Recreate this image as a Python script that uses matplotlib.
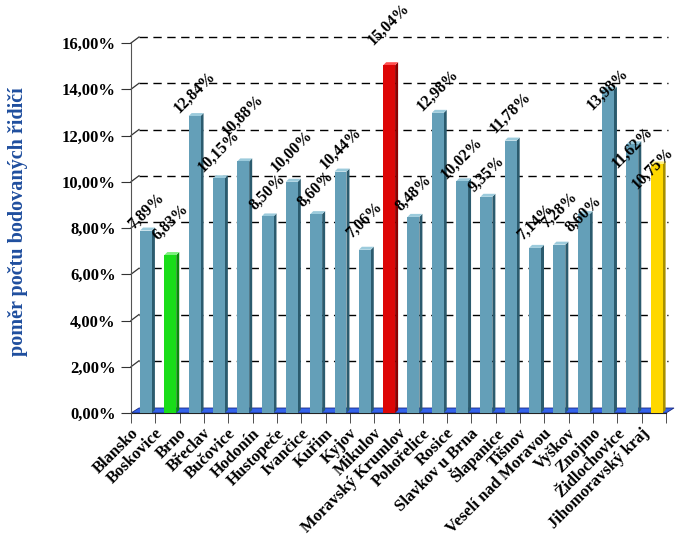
import numpy as np
import matplotlib
matplotlib.use("Agg")
import matplotlib.pyplot as plt
from matplotlib.patches import Polygon

okresy = ["Blansko", "Boskovice", "Brno", "Břeclav", "Bučovice", "Hodonín",
          "Hustopeče", "Ivančice", "Kuřim", "Kyjov", "Mikulov",
          "Moravský Krumlov", "Pohořelice", "Rosice", "Slavkov u Brna",
          "Šlapanice", "Tišnov", "Veselí nad Moravou", "Vyškov", "Znojmo",
          "Židlochovice", "Jihomoravský kraj"]
pomer = [7.89, 6.83, 12.84, 10.15, 10.88, 8.50, 10.00, 8.60, 10.44, 7.06, 15.04,
         8.48, 12.98, 10.02, 9.35, 11.78, 7.14, 7.28, 8.60, 13.98, 11.62, 10.75]
zvyraznit = {"Boskovice": "green", "Mikulov": "red", "Jihomoravský kraj": "yellow"}
y_ticks = [0, 2, 4, 6, 8, 10, 12, 14, 16]

# how far above bar top each value label sits (px), as placed in the original
label_lift = [19, 33, 24, 27, 46, 24, 31, 25, 23, 30, 41,
              24, 23, 23, 23, 28, 26, 35, 0, 0, -3, -4]

barvy = {
    "blue": ("#649fb8", "#2b5b6e", "#9ccbdc"),
    "green": ("#19dd19", "#0a8a0a", "#7cf07c"),
    "red": ("#dd0606", "#8a0000", "#ff5050"),
    "yellow": ("#ffd800", "#a89000", "#fff080"),
}

plt.rcParams['font.family'] = ['Liberation Serif', 'DejaVu Serif']
plt.rcParams['font.weight'] = 'bold'

W, H = 679, 540
fig = plt.figure(figsize=(W / 100, H / 100), dpi=100)
x0, x1, y0, y1 = 131, 666, 413, 43
ax = fig.add_axes([x0 / W, 1 - y0 / H, (x1 - x0) / W, (y0 - y1) / H])
ax.set_xlim(-0.5, 21.5)
ax.set_ylim(0, 16)

pxx = (x1 - x0) / 22.0
pxy = (y0 - y1) / 16.0
wall_dx, wall_dy = 8 / pxx, 6 / pxy
floor_dx, floor_dy = 8 / pxx, 5 / pxy
bar_dx, bar_dy = 3 / pxx, 3 / pxy

# back wall grid
for yv in y_ticks[1:]:
    ax.plot([-0.5 + wall_dx, 21.5 + 0.1], [yv + wall_dy] * 2, color="black",
            lw=1, ls=(0, (6, 4)), zorder=1, clip_on=False)
    ax.plot([-0.5, -0.5 + wall_dx], [yv, yv + wall_dy], color="#333333",
            lw=0.9, zorder=1, clip_on=False)

# floor
ax.add_patch(Polygon([(-0.5, 0), (21.5, 0), (21.5 + floor_dx, floor_dy),
                      (-0.5 + floor_dx, floor_dy)], closed=True,
                     facecolor="#3362ea", edgecolor="#1a2a80", lw=0.6,
                     zorder=2, clip_on=False))

pos = np.arange(len(okresy))
bw = 0.49
for i, (name, v) in enumerate(zip(okresy, pomer)):
    front, side, top = barvy[zvyraznit.get(name, "blue")]
    left = pos[i] - 0.13
    right = left + bw
    ax.add_patch(Polygon([(right, 0), (right + bar_dx, bar_dy),
                          (right + bar_dx, v + bar_dy), (right, v)],
                         closed=True, facecolor=side, edgecolor="none",
                         zorder=3, clip_on=False))
    ax.add_patch(Polygon([(left, v), (right, v), (right + bar_dx, v + bar_dy),
                          (left + bar_dx, v + bar_dy)], closed=True,
                         facecolor=top, edgecolor="none", zorder=3,
                         clip_on=False))
    ax.bar(left + bw / 2, v, width=bw, color=front, edgecolor="none", zorder=4)
    txt = f"{v:.2f}%".replace(".", ",")
    # keep the last label inside the figure edge
    dx = -3 if i == len(okresy) - 1 else 0
    ax.annotate(txt, xy=(left + bw / 2, v), xytext=(dx, label_lift[i] * 0.72),
                textcoords="offset points", rotation=45, ha="center",
                va="center", fontsize=11.5, fontweight="bold", zorder=6,
                annotation_clip=False)

# axes styling
for s in ["top", "right"]:
    ax.spines[s].set_visible(False)
ax.spines["left"].set_color("#555555")
ax.spines["bottom"].set_color("#222222")
ax.spines["left"].set_zorder(5)

ax.set_yticks(y_ticks, [f"{t:.2f}%".replace(".", ",") for t in y_ticks],
              fontsize=12, fontweight="bold")
ax.tick_params(axis="y", length=7, color="#333333", pad=4)

ax.set_xticks(pos - 0.3, okresy, rotation=45, ha="right", va="center",
              rotation_mode="anchor", fontsize=12, fontweight="bold")
ax.set_xticks(np.arange(-0.5, 22, 1), minor=True)
ax.tick_params(axis="x", which="major", length=0, pad=13)
ax.tick_params(axis="x", which="minor", length=7, color="#333333")

fig.text(18 / W, 1 - 222 / H, "poměr počtu bodovaných řidičí", rotation=90,
         ha="center", va="center", color="#1f4e9e", fontsize=14.5,
         fontweight="bold")

fig.savefig("out.png", dpi=100)
